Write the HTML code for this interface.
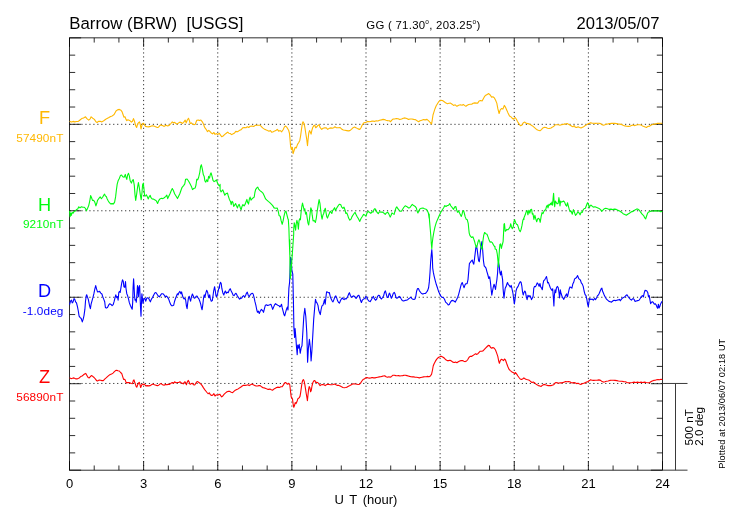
<!DOCTYPE html>
<html><head><meta charset="utf-8"><title>Barrow (BRW) magnetogram</title>
<style>html,body{margin:0;padding:0;background:#fff;overflow:hidden}body{width:730px;height:520px;position:relative;font-family:"Liberation Sans",sans-serif}</style></head>
<body>
<svg width="730" height="520" viewBox="0 0 730 520" style="position:absolute;left:0;top:0">
<rect width="730" height="520" fill="#fff"/>
<path d="M143.62,470.17V37.86M217.75,470.17V37.86M291.88,470.17V37.86M366.00,470.17V37.86M440.12,470.17V37.86M514.25,470.17V37.86M588.38,470.17V37.86" stroke="#333" stroke-width="1" stroke-dasharray="1.2 2.768" fill="none"/>
<path d="M69.50,124.32H662.50M69.50,210.78H662.50M69.50,297.25H662.50M69.50,383.46H662.50" stroke="#333" stroke-width="1" stroke-dasharray="1.2 2.768" fill="none"/>
<rect x="69.5" y="37.86" width="593.0" height="432.31" fill="none" stroke="#000" stroke-width="0.82"/>
<path d="M69.50,37.86v9M69.50,470.17v-9M94.21,37.86v4.7M94.21,470.17v-4.7M118.92,37.86v4.7M118.92,470.17v-4.7M143.62,37.86v9M143.62,470.17v-9M168.33,37.86v4.7M168.33,470.17v-4.7M193.04,37.86v4.7M193.04,470.17v-4.7M217.75,37.86v9M217.75,470.17v-9M242.46,37.86v4.7M242.46,470.17v-4.7M267.17,37.86v4.7M267.17,470.17v-4.7M291.88,37.86v9M291.88,470.17v-9M316.58,37.86v4.7M316.58,470.17v-4.7M341.29,37.86v4.7M341.29,470.17v-4.7M366.00,37.86v9M366.00,470.17v-9M390.71,37.86v4.7M390.71,470.17v-4.7M415.42,37.86v4.7M415.42,470.17v-4.7M440.12,37.86v9M440.12,470.17v-9M464.83,37.86v4.7M464.83,470.17v-4.7M489.54,37.86v4.7M489.54,470.17v-4.7M514.25,37.86v9M514.25,470.17v-9M538.96,37.86v4.7M538.96,470.17v-4.7M563.67,37.86v4.7M563.67,470.17v-4.7M588.38,37.86v9M588.38,470.17v-9M613.08,37.86v4.7M613.08,470.17v-4.7M637.79,37.86v4.7M637.79,470.17v-4.7M662.50,37.86v9M662.50,470.17v-9M69.5,37.86h11.6M662.5,37.86h-11.6M69.5,55.15h5.7M662.5,55.15h-5.7M69.5,72.44h5.7M662.5,72.44h-5.7M69.5,89.74h5.7M662.5,89.74h-5.7M69.5,107.03h5.7M662.5,107.03h-5.7M69.5,124.32h11.6M662.5,124.32h-11.6M69.5,141.61h5.7M662.5,141.61h-5.7M69.5,158.91h5.7M662.5,158.91h-5.7M69.5,176.20h5.7M662.5,176.20h-5.7M69.5,193.49h5.7M662.5,193.49h-5.7M69.5,210.78h11.6M662.5,210.78h-11.6M69.5,228.08h5.7M662.5,228.08h-5.7M69.5,245.37h5.7M662.5,245.37h-5.7M69.5,262.66h5.7M662.5,262.66h-5.7M69.5,279.95h5.7M662.5,279.95h-5.7M69.5,297.25h11.6M662.5,297.25h-11.6M69.5,314.54h5.7M662.5,314.54h-5.7M69.5,331.83h5.7M662.5,331.83h-5.7M69.5,349.12h5.7M662.5,349.12h-5.7M69.5,366.42h5.7M662.5,366.42h-5.7M69.5,383.71h11.6M662.5,383.71h-11.6M69.5,401.00h5.7M662.5,401.00h-5.7M69.5,418.29h5.7M662.5,418.29h-5.7M69.5,435.59h5.7M662.5,435.59h-5.7M69.5,452.88h5.7M662.5,452.88h-5.7M69.5,470.17h11.6M662.5,470.17h-11.6" stroke="#000" stroke-width="0.82" fill="none"/>
<path d="M69.6,377.7 L71.0,378.6 L72.4,378.3 L73.8,377.9 L75.2,378.6 L76.5,378.9 L77.9,378.6 L79.3,377.9 L80.7,376.6 L82.1,376.0 L83.5,374.8 L84.6,374.0 L85.8,373.4 L86.9,375.4 L88.1,377.5 L89.2,377.9 L90.4,376.6 L91.3,375.6 L92.7,376.3 L94.1,377.5 L95.5,379.1 L96.6,380.6 L97.8,380.9 L99.2,380.0 L100.6,380.2 L101.9,380.6 L103.3,380.6 L104.7,379.1 L106.1,377.9 L107.5,376.6 L108.9,375.4 L110.2,374.5 L111.6,374.0 L113.0,373.1 L114.4,371.7 L115.6,370.6 L116.7,370.2 L117.9,370.8 L119.3,371.0 L120.6,372.5 L121.8,373.7 L122.7,376.6 L123.6,379.4 L124.6,379.4 L125.3,380.2 L126.2,382.9 L127.3,382.6 L128.7,382.6 L130.1,382.9 L131.3,383.5 L132.4,383.7 L133.3,380.6 L134.0,379.8 L134.7,382.3 L135.4,384.1 L136.1,386.4 L136.8,387.2 L137.7,384.6 L138.7,382.9 L139.3,382.3 L140.0,384.6 L140.7,387.5 L141.4,385.8 L142.3,384.1 L143.3,384.6 L144.4,384.1 L144.6,384.4 L145.8,385.9 L147.2,385.6 L148.7,385.9 L150.2,385.6 L151.5,384.8 L152.9,384.1 L154.4,384.8 L155.9,385.2 L157.3,385.6 L158.7,385.2 L159.9,384.1 L161.2,383.6 L162.6,384.8 L164.0,385.2 L165.4,384.4 L166.8,384.8 L168.2,384.4 L169.6,384.4 L170.9,383.3 L172.3,382.5 L173.5,383.3 L174.6,381.8 L176.0,382.7 L177.4,382.5 L178.8,382.5 L179.9,381.8 L181.1,382.7 L182.2,383.3 L183.2,383.9 L184.1,382.5 L185.0,381.8 L185.7,382.7 L186.4,384.8 L187.3,382.1 L188.2,380.4 L189.2,382.1 L190.1,384.4 L191.3,383.6 L192.4,383.3 L193.6,384.8 L194.7,385.0 L195.6,383.6 L196.6,382.1 L197.7,381.6 L198.9,382.5 L200.0,383.3 L201.2,384.4 L202.3,385.9 L203.5,387.9 L204.7,389.6 L205.8,391.0 L207.0,392.5 L208.1,393.7 L209.3,392.9 L210.4,394.8 L211.6,395.4 L212.7,395.2 L213.9,393.7 L215.0,396.0 L216.2,394.8 L217.6,395.2 L219.0,394.5 L220.0,394.2 L220.1,394.4 L220.3,395.2 L221.7,396.9 L222.8,396.0 L224.2,394.1 L225.6,392.9 L227.0,391.8 L228.4,391.4 L229.8,391.4 L231.2,392.3 L232.6,392.6 L233.9,391.4 L235.3,390.2 L236.7,389.4 L238.1,388.9 L239.5,387.9 L240.9,387.1 L242.2,386.0 L243.6,385.2 L245.0,385.4 L246.4,385.2 L247.8,384.8 L249.2,385.6 L250.6,384.8 L251.9,384.0 L253.3,384.8 L254.7,385.4 L256.1,386.0 L257.5,386.0 L258.9,385.6 L260.2,385.6 L261.6,386.8 L263.0,387.7 L264.4,387.9 L265.8,388.6 L267.2,389.1 L268.6,389.4 L269.9,389.1 L271.3,389.8 L272.5,390.2 L273.9,389.1 L275.3,388.3 L276.6,387.5 L278.0,387.1 L279.4,387.5 L280.8,386.8 L282.2,386.6 L283.3,385.2 L284.5,383.1 L285.6,382.5 L286.8,383.7 L287.7,384.2 L288.9,383.3 L289.8,384.8 L290.5,391.2 L291.2,396.9 L291.9,398.1 L292.6,399.2 L292.6,399.8 L293.1,403.9 L293.8,407.3 L294.5,405.6 L295.2,402.5 L296.1,403.6 L297.0,401.6 L297.9,398.7 L299.1,397.9 L300.0,396.4 L300.7,392.3 L301.4,387.1 L302.1,382.5 L302.8,380.2 L303.5,379.6 L304.2,381.4 L304.9,384.8 L305.6,389.4 L306.2,393.5 L306.9,397.5 L307.4,400.6 L307.9,395.8 L308.6,389.4 L309.2,386.6 L309.9,387.7 L310.6,391.8 L311.3,390.2 L312.0,386.0 L312.9,382.5 L313.9,380.8 L314.8,380.6 L315.7,382.5 L316.6,382.2 L317.8,382.5 L318.9,384.0 L320.1,385.6 L321.2,384.8 L322.6,384.5 L324.0,384.8 L325.2,385.6 L326.3,384.8 L327.7,384.2 L329.1,384.5 L330.5,384.8 L331.9,384.8 L333.2,384.5 L334.6,384.0 L336.0,384.8 L337.4,385.4 L338.8,385.4 L340.2,386.0 L341.6,386.8 L342.9,387.5 L344.3,387.7 L345.7,387.5 L347.1,387.1 L348.5,386.3 L349.9,385.6 L351.3,384.8 L352.6,384.0 L354.0,383.7 L355.4,384.0 L356.8,384.2 L358.2,384.5 L359.6,384.2 L360.7,382.9 L361.9,381.0 L363.0,379.6 L364.2,379.1 L365.0,378.5 L365.3,378.1 L366.7,377.5 L368.1,377.9 L369.5,378.1 L370.9,377.9 L372.2,377.5 L373.6,377.9 L375.0,377.9 L376.4,377.5 L377.8,377.2 L379.2,376.9 L380.6,376.7 L381.9,376.4 L383.3,376.0 L384.7,375.8 L386.1,376.7 L387.5,377.2 L388.9,376.7 L390.2,377.2 L391.6,376.4 L393.0,375.2 L394.4,375.2 L395.8,375.6 L397.2,375.8 L398.6,375.6 L399.9,376.0 L401.3,375.8 L402.7,375.6 L404.1,375.2 L405.5,375.2 L406.9,375.6 L408.2,376.0 L409.6,376.4 L411.0,376.7 L412.4,376.9 L413.8,376.9 L415.2,377.2 L416.6,377.2 L417.9,377.5 L419.3,377.9 L420.7,377.5 L422.1,377.2 L423.5,376.9 L424.9,376.7 L426.3,376.7 L427.6,376.4 L429.0,376.7 L430.4,376.0 L431.6,374.1 L432.5,370.0 L433.2,366.0 L434.1,363.7 L435.3,361.4 L436.4,359.6 L437.6,358.2 L438.7,357.3 L440.0,356.7 L440.3,356.4 L441.7,356.4 L443.1,357.2 L444.5,358.3 L445.9,359.8 L447.2,360.6 L448.6,360.6 L450.0,360.2 L451.4,361.0 L452.8,362.1 L454.2,362.5 L455.6,362.1 L456.9,362.7 L458.3,361.8 L459.7,361.0 L461.1,360.6 L462.5,360.6 L463.9,361.3 L465.2,361.6 L466.6,361.0 L467.8,359.5 L468.9,357.5 L470.1,356.4 L471.5,356.4 L472.9,355.6 L474.2,354.6 L475.6,353.7 L476.8,354.4 L477.9,353.7 L479.1,352.3 L480.2,351.2 L481.6,351.2 L483.0,350.9 L484.4,349.4 L485.8,347.9 L487.2,346.5 L488.3,345.4 L489.5,345.6 L490.6,347.5 L491.8,348.3 L492.9,347.5 L494.3,348.3 L495.5,350.0 L496.6,352.9 L497.8,356.4 L498.7,361.0 L499.4,363.3 L500.3,360.6 L501.3,359.2 L502.4,359.8 L503.6,360.6 L504.5,359.0 L505.4,359.8 L506.6,363.3 L507.7,366.2 L508.9,369.1 L510.3,370.6 L511.6,371.7 L513.0,372.5 L514.4,373.3 L515.0,373.7 L515.5,372.6 L516.7,374.1 L517.9,376.0 L519.0,377.5 L520.2,379.0 L521.5,379.5 L522.9,378.7 L523.9,377.9 L525.0,378.7 L526.4,379.5 L527.8,379.8 L529.2,380.2 L530.5,381.3 L531.9,382.5 L533.3,382.1 L534.5,382.7 L535.6,383.9 L537.0,384.8 L538.4,385.6 L539.8,385.9 L541.2,386.4 L542.5,385.2 L543.9,384.4 L545.3,384.8 L546.7,385.2 L548.1,385.6 L549.5,385.6 L550.9,385.6 L552.2,385.2 L553.6,384.8 L554.8,383.3 L556.0,382.5 L557.3,382.7 L558.7,383.3 L560.1,382.7 L561.5,382.9 L562.9,382.5 L564.3,382.1 L565.6,381.6 L567.0,381.8 L568.4,381.6 L569.8,381.8 L571.2,382.7 L572.6,382.9 L574.0,382.5 L575.3,382.9 L576.7,383.6 L578.1,383.3 L579.5,383.9 L580.9,384.4 L582.3,383.6 L583.6,383.3 L585.0,382.9 L586.4,382.1 L587.6,381.8 L588.7,381.0 L590.0,380.2 L590.5,379.8 L591.9,380.2 L593.7,380.4 L595.4,380.2 L597.1,380.2 L598.9,379.9 L600.6,380.4 L602.1,381.6 L603.5,382.1 L604.9,381.8 L606.4,381.3 L608.1,381.0 L609.8,380.4 L611.5,380.2 L613.3,380.2 L615.0,380.4 L616.8,380.6 L618.5,381.0 L620.2,381.3 L621.9,381.3 L623.7,381.6 L625.4,381.8 L627.1,382.5 L628.9,382.9 L630.6,382.7 L632.3,382.5 L634.1,382.1 L635.8,382.5 L637.5,382.1 L639.3,382.5 L641.0,382.1 L642.7,382.5 L644.5,382.1 L646.2,382.5 L647.9,382.7 L649.4,382.7 L650.8,381.8 L652.2,381.0 L653.7,380.4 L655.2,380.2 L656.6,379.8 L658.0,379.5 L659.5,379.8 L661.0,379.2 L662.3,379.5" stroke="#ff0000" stroke-width="1.1" fill="none" stroke-linejoin="round"/>
<path d="M69.6,304.6 L70.5,301.2 L71.5,300.2 L72.2,302.9 L73.1,301.8 L74.0,298.6 L74.8,299.4 L75.6,301.8 L76.5,302.9 L77.5,306.9 L78.3,311.0 L79.1,316.2 L80.0,317.3 L81.2,318.5 L82.3,321.9 L83.2,319.1 L84.0,315.6 L84.9,309.2 L85.5,301.2 L86.2,296.0 L86.7,294.8 L87.5,297.1 L88.3,299.4 L89.0,302.9 L89.7,306.4 L90.4,308.7 L91.1,304.1 L92.0,300.9 L92.9,297.7 L93.9,293.7 L94.8,289.1 L95.7,285.6 L96.6,289.1 L97.5,291.9 L98.5,291.7 L99.6,291.4 L100.8,293.1 L101.9,294.0 L102.9,297.1 L103.8,299.4 L104.7,301.8 L105.4,307.5 L106.3,308.1 L107.5,307.5 L108.6,305.2 L109.8,303.7 L111.0,304.4 L112.1,305.6 L113.2,304.6 L114.2,301.2 L115.1,297.5 L115.8,294.8 L116.7,297.7 L117.5,296.6 L118.1,300.2 L118.8,292.5 L119.5,291.4 L120.2,292.5 L121.0,287.3 L121.8,282.7 L122.5,279.8 L123.3,281.5 L123.9,286.7 L124.8,287.3 L125.5,281.5 L126.0,288.5 L126.8,293.7 L127.6,295.6 L128.5,298.9 L129.4,302.9 L130.3,305.2 L131.3,307.5 L132.2,309.2 L132.7,302.3 L133.1,287.3 L133.6,278.7 L134.0,285.0 L134.5,295.4 L135.0,300.2 L135.7,299.4 L136.3,302.3 L137.0,293.1 L137.5,285.6 L138.0,290.2 L138.4,296.6 L138.9,287.3 L139.6,285.6 L140.0,294.8 L140.5,306.9 L141.0,316.2 L141.4,304.6 L141.9,293.7 L142.3,297.1 L143.0,303.5 L143.7,299.4 L143.9,298.9 L144.8,298.3 L145.8,301.2 L146.7,298.3 L147.6,297.7 L148.7,298.3 L149.5,300.2 L150.4,301.8 L151.3,299.4 L152.5,297.5 L153.6,295.2 L154.8,293.1 L155.9,292.5 L157.1,294.2 L158.2,296.0 L159.4,296.8 L160.6,295.2 L161.7,293.7 L162.9,293.7 L164.0,294.8 L165.2,296.8 L166.3,296.0 L167.5,297.1 L168.6,298.9 L169.6,301.8 L170.5,304.1 L171.6,305.8 L172.8,305.6 L173.7,305.2 L174.6,301.2 L175.6,298.3 L176.5,296.0 L177.4,293.7 L178.1,294.8 L179.0,292.5 L179.9,291.4 L180.9,293.7 L181.6,291.9 L182.2,294.8 L183.2,297.7 L184.1,298.9 L185.0,298.3 L185.7,300.2 L186.4,305.8 L187.1,308.7 L187.8,302.3 L188.5,297.7 L189.2,296.3 L189.9,298.9 L190.6,301.2 L191.5,296.6 L192.4,294.0 L193.3,296.0 L194.3,298.3 L195.2,297.7 L196.1,296.3 L197.0,296.0 L197.9,297.5 L198.9,298.9 L199.8,301.2 L200.7,304.1 L201.4,307.5 L202.1,309.8 L202.8,304.6 L203.5,298.3 L204.2,294.8 L204.9,297.1 L205.8,293.1 L206.7,290.2 L207.7,292.5 L208.3,296.0 L209.0,297.7 L209.7,294.8 L210.4,298.9 L211.3,301.2 L212.3,300.6 L213.0,296.0 L213.7,290.8 L214.6,286.7 L215.3,290.8 L216.0,296.0 L216.7,296.6 L217.6,293.7 L218.5,289.6 L219.4,286.2 L219.5,288.1 L219.6,285.2 L220.5,282.3 L221.2,283.5 L221.9,288.7 L222.8,292.7 L223.8,295.0 L224.7,292.1 L225.4,291.0 L226.3,293.3 L227.2,292.1 L228.2,292.7 L229.1,290.4 L230.2,288.7 L231.2,291.0 L232.1,292.7 L233.2,295.2 L234.2,295.6 L235.1,293.9 L236.0,293.3 L237.2,295.6 L238.3,297.3 L239.5,299.1 L240.6,298.5 L241.8,297.9 L242.7,296.4 L243.6,295.6 L244.6,296.8 L245.5,295.9 L246.4,293.3 L247.3,292.1 L248.2,295.2 L249.2,296.8 L250.1,295.0 L251.0,293.9 L252.2,293.3 L253.1,293.9 L254.0,297.1 L254.9,301.4 L255.9,305.4 L256.8,310.0 L257.5,312.3 L258.4,311.2 L259.3,313.5 L260.2,311.2 L261.4,309.4 L262.6,310.6 L263.5,312.3 L264.4,308.9 L265.3,305.4 L266.3,304.8 L267.4,305.4 L268.6,305.2 L269.7,304.8 L270.9,304.2 L271.8,306.6 L272.7,309.4 L273.6,307.1 L274.6,304.8 L275.5,303.7 L276.6,304.5 L277.8,305.2 L278.9,305.6 L279.9,306.8 L280.6,306.3 L281.5,304.2 L282.2,307.7 L283.1,311.2 L284.0,314.6 L284.7,315.8 L285.6,312.3 L286.6,308.9 L287.3,307.1 L288.0,310.0 L288.4,299.6 L288.9,288.1 L289.6,282.3 L290.0,271.9 L290.6,257.3 L291.2,259.6 L291.9,270.6 L292.8,274.2 L293.4,300.0 L293.9,327.9 L294.6,337.5 L295.1,328.6 L295.9,338.1 L296.4,345.7 L297.2,354.6 L297.7,345.1 L298.4,348.2 L299.2,344.4 L300.2,353.3 L301.2,347.6 L302.0,345.7 L302.8,333.0 L303.8,316.5 L304.8,308.2 L305.8,316.5 L306.8,333.0 L307.3,350.8 L307.6,362.2 L308.4,348.2 L309.4,339.4 L310.4,348.2 L311.1,360.9 L311.9,350.8 L312.7,336.8 L313.7,319.1 L314.7,307.6 L315.5,299.4 L316.2,301.9 L317.1,303.1 L318.0,305.4 L318.7,310.0 L319.6,312.9 L320.3,314.6 L321.0,310.0 L321.9,306.0 L322.9,305.4 L323.8,302.5 L324.5,299.6 L325.2,304.2 L325.9,297.3 L326.6,291.8 L327.5,292.1 L328.4,292.7 L329.3,292.5 L330.2,296.2 L331.2,299.1 L332.1,300.8 L333.0,301.9 L333.9,299.6 L334.9,296.8 L335.8,295.9 L336.7,297.9 L337.6,300.8 L338.6,302.5 L339.5,303.1 L340.4,300.8 L341.3,299.1 L342.3,297.9 L343.2,299.1 L344.1,299.6 L345.0,298.5 L345.9,299.1 L346.9,297.9 L347.8,296.2 L348.7,293.9 L349.4,292.7 L350.3,295.2 L351.3,297.3 L352.2,296.8 L353.3,295.9 L354.3,296.2 L355.2,297.3 L356.1,298.5 L357.0,297.1 L358.0,295.6 L358.9,295.2 L359.8,297.9 L360.7,300.8 L361.4,302.5 L362.3,300.2 L363.5,299.1 L365.0,298.5 L365.8,296.4 L366.7,296.9 L367.6,299.3 L368.8,301.0 L370.2,301.6 L371.3,299.8 L372.5,297.5 L373.4,296.4 L374.3,298.7 L375.5,300.2 L376.6,299.3 L377.6,296.4 L378.7,295.2 L379.6,295.8 L380.6,298.1 L381.5,299.0 L382.6,297.5 L383.6,295.8 L384.5,292.3 L385.4,290.9 L386.3,294.1 L387.2,297.5 L388.2,297.5 L388.9,294.1 L389.6,293.2 L390.5,295.8 L391.4,298.3 L392.3,296.4 L393.2,293.5 L394.2,292.3 L395.1,294.1 L396.0,297.5 L396.9,298.3 L398.1,297.5 L399.2,296.4 L400.2,296.9 L401.1,298.7 L402.2,300.4 L403.6,301.0 L405.0,300.4 L406.4,300.2 L407.6,299.8 L408.7,298.7 L409.9,297.9 L410.8,297.2 L411.7,298.3 L412.9,299.3 L414.0,299.5 L415.2,298.7 L415.9,295.8 L416.6,291.2 L417.5,288.6 L418.4,288.6 L419.3,290.6 L420.5,292.3 L421.6,293.5 L422.8,294.1 L424.2,293.5 L425.3,293.5 L426.5,292.3 L427.6,290.6 L428.6,287.7 L429.3,281.9 L430.0,272.7 L430.6,262.3 L431.3,254.2 L431.8,249.6 L432.3,256.5 L432.7,268.1 L433.4,272.7 L434.3,276.8 L435.3,280.8 L436.4,284.8 L437.6,288.3 L438.7,291.8 L440.0,294.6 L440.1,294.6 L441.0,296.4 L442.2,297.5 L443.3,297.5 L444.5,299.3 L445.6,302.1 L447.0,303.3 L448.2,305.0 L449.3,304.4 L450.5,302.1 L451.6,300.6 L452.8,300.4 L453.9,301.0 L455.3,302.1 L456.5,299.8 L457.6,297.5 L458.6,294.6 L459.5,291.2 L460.4,287.7 L461.3,284.2 L462.2,282.5 L463.2,285.4 L464.1,287.7 L465.0,284.8 L465.9,283.7 L467.1,283.7 L468.0,279.6 L468.7,271.6 L469.4,263.5 L470.3,262.3 L471.2,261.2 L472.2,260.0 L473.1,262.9 L473.8,264.1 L474.5,258.9 L475.2,253.1 L475.9,247.3 L476.6,246.2 L477.2,249.6 L477.9,255.4 L478.6,260.6 L479.3,261.7 L480.0,256.5 L480.7,248.5 L481.4,243.8 L482.0,241.5 L482.4,246.2 L482.8,251.9 L483.5,261.2 L484.2,265.8 L485.1,266.9 L486.0,268.1 L486.9,271.6 L487.9,275.0 L488.8,278.5 L489.7,276.8 L490.4,281.9 L491.1,288.9 L491.8,295.2 L492.5,291.2 L493.4,286.6 L494.1,284.2 L494.8,286.6 L495.5,289.4 L496.2,284.2 L496.9,279.6 L497.6,272.7 L498.0,265.8 L498.5,262.3 L499.2,265.8 L499.9,272.7 L500.6,275.0 L501.3,271.0 L502.0,276.2 L502.6,279.6 L503.1,288.9 L503.6,294.6 L504.0,298.1 L504.5,293.5 L505.2,288.3 L506.1,286.6 L506.8,284.2 L507.5,282.5 L508.4,284.8 L509.3,285.4 L510.3,287.1 L511.2,285.4 L512.1,289.4 L513.0,293.5 L513.7,299.3 L514.4,303.9 L515.3,297.3 L516.0,291.0 L516.9,288.1 L518.1,286.4 L519.2,283.5 L520.2,281.7 L521.1,282.3 L521.8,285.8 L522.5,291.6 L523.2,295.0 L523.9,292.7 L524.8,291.0 L525.5,292.1 L526.2,296.2 L527.1,299.6 L528.0,295.2 L528.9,296.8 L529.9,295.6 L530.8,297.3 L531.5,299.6 L532.4,297.9 L533.1,296.2 L533.8,288.1 L534.5,286.4 L535.4,286.7 L536.3,285.2 L537.2,282.9 L538.2,284.1 L539.1,286.4 L540.0,283.5 L540.7,286.9 L541.6,288.1 L542.3,289.8 L543.0,284.1 L543.7,280.6 L544.6,280.0 L545.6,278.3 L546.5,276.5 L547.2,280.0 L547.6,282.9 L548.3,282.3 L549.2,284.6 L550.2,287.5 L551.1,289.2 L552.0,290.4 L552.7,288.7 L553.4,298.5 L553.9,306.0 L554.3,296.2 L555.0,289.8 L555.7,292.7 L556.4,288.1 L557.3,286.4 L558.2,287.5 L559.0,292.7 L559.6,297.9 L560.3,289.8 L561.0,293.3 L562.0,296.2 L562.9,297.9 L563.8,299.4 L564.7,297.3 L565.6,295.6 L566.6,293.9 L567.5,296.8 L568.4,292.7 L569.3,288.7 L570.0,286.9 L571.0,287.5 L571.9,288.1 L572.8,284.1 L573.7,282.3 L574.6,278.9 L575.6,278.3 L576.5,277.5 L577.6,275.6 L578.6,278.3 L579.5,279.4 L580.4,280.0 L581.3,282.9 L582.3,284.1 L583.2,286.4 L584.1,291.0 L585.0,294.4 L586.0,295.6 L586.9,299.6 L587.6,304.2 L588.3,306.6 L589.0,301.9 L589.6,298.5 L591.0,299.6 L592.2,299.1 L593.3,300.2 L594.5,298.5 L595.6,299.6 L596.5,297.9 L597.5,295.6 L598.4,295.0 L599.3,293.3 L600.2,291.0 L601.2,288.7 L601.9,288.1 L602.5,291.0 L603.5,293.3 L604.4,295.6 L605.3,297.3 L606.5,299.1 L607.6,300.2 L609.0,301.4 L610.4,301.7 L611.5,302.2 L612.7,301.0 L614.1,300.2 L615.5,300.6 L616.9,300.2 L618.2,299.9 L619.4,299.4 L620.3,300.8 L621.5,299.1 L622.6,297.9 L624.0,297.3 L625.2,296.4 L626.3,295.2 L627.0,294.8 L627.9,296.2 L629.1,297.9 L630.2,299.1 L631.4,300.2 L632.3,299.1 L633.2,298.5 L634.2,299.6 L635.1,301.4 L636.3,301.0 L637.6,300.6 L639.0,300.2 L640.2,298.5 L641.3,296.4 L642.5,295.6 L643.4,296.8 L644.3,292.7 L645.0,290.4 L646.0,290.6 L646.9,291.0 L647.8,292.7 L648.5,296.8 L649.2,295.6 L649.9,299.6 L650.6,303.7 L651.5,302.2 L652.4,301.7 L653.3,302.5 L654.3,304.2 L655.2,303.7 L656.1,304.8 L657.0,307.1 L657.7,308.3 L658.4,304.2 L659.1,307.9 L659.8,306.6 L660.7,303.7 L661.6,301.9 L662.3,301.4" stroke="#0000ff" stroke-width="1.1" fill="none" stroke-linejoin="round"/>
<path d="M69.6,210.8 L70.1,216.6 L70.8,213.1 L71.3,215.4 L72.2,212.5 L73.1,213.1 L74.2,211.4 L75.4,210.8 L76.5,209.6 L77.7,209.1 L78.8,206.8 L80.0,207.9 L81.4,206.8 L82.9,207.3 L84.4,207.3 L85.5,208.5 L86.4,210.8 L87.5,208.5 L88.7,205.6 L89.5,202.1 L90.2,198.7 L90.6,195.6 L91.5,197.5 L92.5,200.4 L93.6,200.2 L94.8,202.1 L95.9,205.9 L96.8,203.3 L97.5,200.4 L98.7,198.7 L100.2,196.9 L101.4,198.7 L102.5,197.5 L103.7,195.2 L104.5,194.1 L105.4,196.0 L106.3,196.4 L107.1,198.7 L108.3,201.0 L109.4,202.7 L110.6,203.9 L112.1,203.6 L113.5,203.9 L114.6,202.1 L115.6,196.9 L116.4,190.0 L117.2,184.2 L118.1,180.8 L119.3,178.5 L120.4,175.6 L121.6,175.0 L122.7,176.7 L124.1,177.3 L125.3,174.4 L126.0,177.3 L126.8,179.4 L127.6,175.0 L128.5,173.3 L129.4,176.2 L130.2,180.8 L131.4,183.1 L132.5,180.2 L133.3,179.6 L134.3,185.4 L135.0,194.6 L135.7,200.4 L136.6,194.6 L137.5,187.7 L138.4,182.5 L139.3,187.7 L140.3,194.6 L141.2,199.8 L141.9,193.5 L142.6,184.8 L143.3,183.1 L144.1,190.0 L144.6,196.0 L145.5,196.0 L146.3,194.8 L147.2,196.6 L148.3,198.9 L149.2,196.6 L150.2,195.4 L151.0,197.7 L152.1,198.9 L153.6,199.1 L155.0,200.0 L156.4,200.9 L157.6,203.5 L158.7,200.6 L159.9,198.9 L161.4,198.3 L162.9,198.6 L164.2,197.7 L165.6,196.6 L166.8,195.2 L167.7,198.6 L168.9,196.0 L170.0,193.7 L171.2,190.8 L172.3,188.5 L173.5,190.8 L174.6,193.7 L176.0,196.0 L177.5,198.6 L178.7,196.0 L179.8,193.7 L181.0,190.2 L182.1,187.3 L183.6,185.6 L184.8,183.9 L185.6,179.2 L187.1,179.0 L188.5,181.0 L189.9,183.6 L191.4,186.4 L192.5,189.6 L193.7,188.5 L195.2,187.9 L196.0,185.0 L196.8,179.2 L197.7,179.8 L198.6,177.5 L199.8,172.3 L200.6,166.5 L201.4,164.8 L202.3,168.8 L203.3,174.6 L204.2,176.4 L204.9,181.0 L205.8,182.1 L206.7,179.8 L207.7,181.6 L208.6,176.4 L209.5,178.1 L210.4,174.1 L211.1,172.9 L212.2,176.9 L213.0,180.4 L214.1,181.6 L215.3,181.0 L216.4,179.8 L217.6,183.3 L218.7,185.2 L220.0,186.2 L220.1,184.4 L220.1,189.6 L221.0,191.9 L221.9,190.8 L222.8,189.9 L223.8,192.5 L224.8,195.2 L226.0,193.7 L227.5,193.1 L228.3,196.0 L229.4,199.4 L230.6,201.8 L231.2,204.6 L232.1,201.2 L232.9,202.3 L233.7,206.4 L234.6,205.2 L235.6,203.5 L236.5,205.8 L237.5,207.9 L238.4,205.2 L239.2,204.4 L240.2,207.5 L241.1,209.8 L242.0,206.4 L242.9,204.6 L244.1,206.0 L245.2,204.1 L246.2,201.2 L246.9,199.4 L247.6,202.3 L248.5,204.1 L249.4,198.9 L250.1,197.1 L251.0,200.2 L252.2,198.6 L253.3,197.7 L254.2,197.1 L254.9,192.5 L255.6,189.6 L256.8,187.9 L257.7,187.1 L258.6,189.1 L260.0,190.6 L261.4,191.7 L262.9,193.1 L264.1,195.6 L265.6,198.9 L266.9,200.2 L268.3,201.4 L269.8,202.6 L271.3,204.1 L272.7,205.6 L274.1,207.9 L275.6,208.3 L277.3,208.1 L278.3,211.6 L279.1,215.6 L280.2,216.2 L281.0,220.2 L282.2,224.3 L283.1,220.8 L284.0,216.2 L285.0,212.1 L285.9,211.0 L286.8,214.4 L288.0,219.1 L288.3,219.2 L288.9,228.5 L289.3,241.2 L289.8,255.0 L289.8,240.0 L289.9,259.6 L290.3,278.7 L291.0,271.2 L291.9,259.6 L292.9,245.8 L293.7,234.2 L293.7,229.6 L294.2,222.7 L294.9,225.6 L295.6,230.2 L296.2,223.9 L296.9,220.4 L297.7,223.3 L298.4,229.1 L299.0,221.0 L299.7,218.7 L300.4,219.8 L301.1,212.3 L301.8,206.5 L302.5,203.1 L303.3,206.5 L304.1,210.0 L304.8,208.8 L305.6,214.1 L306.4,212.3 L307.1,217.5 L307.9,222.7 L308.7,225.0 L309.4,219.8 L310.2,212.9 L310.8,207.7 L311.5,209.4 L312.2,215.2 L313.1,221.0 L314.2,220.4 L315.4,222.5 L316.3,218.1 L317.2,211.2 L318.2,204.8 L319.1,199.6 L320.0,203.7 L320.7,210.0 L321.4,215.8 L322.1,219.2 L322.9,215.2 L323.7,213.5 L324.6,210.0 L325.3,208.3 L326.0,212.3 L326.7,216.4 L327.5,218.1 L328.3,215.8 L329.3,213.5 L330.2,211.2 L331.1,212.3 L331.8,213.5 L332.7,210.6 L333.6,209.4 L334.6,207.7 L335.5,210.6 L336.4,208.8 L337.3,207.1 L338.5,205.2 L339.6,204.2 L340.8,204.8 L341.7,207.1 L342.9,208.3 L344.0,207.1 L345.0,210.0 L345.9,213.5 L346.8,212.9 L347.7,215.2 L348.6,218.1 L349.8,220.2 L351.0,219.2 L351.9,216.9 L352.9,215.2 L354.1,213.5 L355.0,212.3 L356.0,214.4 L357.2,216.8 L358.3,218.5 L359.8,221.4 L361.0,218.5 L362.5,216.2 L363.6,214.4 L364.8,215.0 L365.9,216.2 L367.1,212.7 L368.2,211.3 L369.6,212.5 L370.8,213.3 L371.9,211.8 L373.1,212.1 L374.0,209.5 L374.9,208.7 L376.0,210.2 L377.1,212.5 L378.3,213.6 L379.4,211.8 L380.9,212.1 L382.3,212.1 L383.7,212.9 L385.2,214.4 L386.4,212.9 L387.6,212.1 L388.8,213.9 L390.2,217.1 L391.1,215.2 L392.0,212.9 L392.9,213.6 L394.1,214.4 L395.0,211.0 L395.9,208.1 L396.8,206.9 L397.9,208.7 L399.1,210.2 L400.2,211.3 L401.4,211.3 L402.5,209.5 L403.7,207.5 L405.2,205.8 L406.6,206.4 L407.7,207.2 L408.9,208.1 L410.0,207.5 L411.2,205.8 L412.3,204.4 L413.7,205.6 L415.2,206.4 L416.4,208.1 L417.2,211.6 L417.9,212.9 L418.8,211.0 L419.8,209.0 L421.3,208.3 L423.0,208.1 L424.5,208.7 L426.0,209.2 L427.1,210.2 L428.3,212.7 L429.2,218.5 L429.2,214.1 L429.5,220.4 L430.2,228.5 L430.9,236.6 L431.3,243.5 L431.8,248.7 L432.2,243.5 L432.9,237.7 L433.9,231.9 L435.0,226.8 L436.4,222.1 L437.9,218.7 L439.4,215.2 L440.8,212.3 L442.2,210.0 L443.7,207.7 L444.8,205.6 L446.0,206.5 L447.1,205.6 L448.6,205.2 L449.8,203.7 L450.9,206.0 L452.3,207.7 L453.5,209.4 L454.6,207.1 L455.8,206.5 L456.7,210.0 L457.5,212.3 L458.7,211.2 L459.8,213.5 L461.3,216.4 L462.1,214.1 L462.7,211.2 L463.6,210.6 L464.4,213.5 L465.2,216.9 L466.2,219.2 L467.3,219.8 L468.2,223.3 L468.7,228.5 L469.2,233.1 L469.9,235.4 L470.8,236.6 L471.7,237.5 L472.9,236.8 L473.7,238.9 L474.5,241.2 L475.4,244.6 L476.3,247.5 L477.1,245.8 L477.9,242.3 L478.9,239.8 L479.8,241.8 L480.6,245.8 L481.4,248.7 L482.1,249.3 L482.9,241.2 L483.7,235.4 L484.6,232.5 L485.8,233.7 L487.0,234.2 L488.1,237.1 L489.3,240.6 L490.2,242.3 L491.3,241.8 L492.5,242.9 L493.6,245.2 L494.8,246.9 L494.9,246.2 L495.2,249.1 L496.4,249.6 L497.3,254.2 L498.0,261.2 L498.5,266.9 L498.9,258.9 L499.4,249.6 L499.9,244.4 L500.6,243.9 L501.4,248.5 L502.2,245.0 L503.1,241.6 L503.6,232.3 L504.0,224.2 L504.5,223.7 L505.2,231.2 L506.0,230.6 L506.8,229.4 L507.9,229.8 L509.1,228.3 L510.0,227.1 L510.7,223.7 L511.4,226.5 L512.3,228.8 L513.2,227.1 L513.9,221.9 L514.6,219.6 L515.6,222.5 L516.5,224.2 L517.5,224.8 L518.3,227.1 L519.2,230.0 L520.2,231.7 L521.1,229.4 L522.0,225.4 L522.9,220.2 L523.9,217.9 L523.9,219.4 L524.0,217.7 L525.2,214.8 L526.3,211.4 L527.2,210.8 L527.9,214.8 L528.9,210.2 L529.8,213.1 L530.7,209.6 L531.6,209.4 L532.3,214.2 L533.0,213.7 L533.9,219.4 L534.9,215.4 L535.8,218.9 L536.7,221.8 L537.6,218.9 L538.5,218.3 L539.5,219.4 L540.2,222.3 L541.1,216.6 L542.0,212.5 L542.9,213.7 L543.9,211.4 L544.8,210.2 L545.7,209.6 L546.6,206.2 L547.3,205.2 L548.0,207.9 L548.9,204.4 L549.6,205.2 L550.6,203.3 L551.2,204.8 L551.9,202.1 L552.6,205.2 L553.1,198.1 L553.6,193.2 L554.0,199.8 L554.7,206.8 L555.4,201.0 L556.3,202.7 L557.2,203.9 L558.2,203.3 L558.9,197.5 L559.6,202.1 L560.0,205.9 L560.7,201.0 L561.4,202.1 L562.3,201.8 L563.5,201.0 L564.6,202.1 L565.8,205.2 L566.7,206.2 L567.5,202.7 L568.3,205.9 L569.3,209.6 L570.2,211.7 L571.1,211.0 L572.3,214.2 L573.4,209.6 L574.3,211.9 L575.5,215.4 L576.6,214.2 L577.8,211.7 L579.0,212.9 L580.1,214.8 L581.3,211.9 L582.2,212.5 L583.3,209.6 L584.3,208.5 L585.4,208.2 L586.6,205.0 L587.5,202.7 L588.4,203.9 L589.3,207.9 L590.3,205.2 L591.2,205.2 L592.3,206.4 L593.5,207.1 L595.0,206.8 L599.1,208.5 L600.6,209.6 L601.7,211.4 L602.9,210.2 L604.4,208.7 L605.8,208.2 L607.5,208.7 L609.2,209.4 L611.0,209.1 L612.7,209.6 L614.4,209.1 L616.2,209.4 L617.9,210.2 L619.6,211.0 L621.4,212.2 L623.1,213.7 L624.8,214.5 L626.3,215.2 L627.7,214.2 L629.4,213.3 L631.2,211.9 L632.9,211.4 L634.6,210.2 L636.4,209.1 L637.9,209.1 L639.3,210.2 L640.6,212.2 L642.1,214.2 L643.6,215.6 L644.8,217.9 L645.7,218.9 L646.6,216.0 L647.6,213.1 L648.7,211.9 L650.2,211.4 L652.0,211.0 L653.7,211.0 L655.4,210.6 L657.1,211.0 L658.9,210.8 L660.6,211.7 L662.3,211.4" stroke="#00fb10" stroke-width="1.1" fill="none" stroke-linejoin="round"/>
<path d="M69.6,121.2 L71.3,122.1 L73.1,121.4 L74.8,121.9 L76.5,121.5 L78.3,121.4 L80.0,120.0 L81.7,118.6 L83.5,117.9 L85.5,116.8 L86.9,118.6 L88.7,120.2 L90.2,118.9 L91.1,116.8 L92.7,118.2 L94.4,119.4 L95.9,121.8 L97.1,122.5 L98.5,121.4 L100.2,121.2 L101.9,121.9 L103.7,120.7 L105.4,119.5 L107.1,118.4 L108.9,117.5 L110.6,116.5 L112.3,115.9 L114.1,114.5 L115.2,112.5 L116.0,111.0 L117.5,109.9 L119.3,109.4 L121.0,110.2 L122.1,111.9 L123.1,114.8 L123.9,117.1 L125.0,116.8 L126.0,119.4 L126.8,120.6 L127.9,119.8 L129.1,120.2 L130.2,120.9 L131.4,122.1 L132.5,121.2 L133.5,118.6 L134.3,120.6 L135.1,123.5 L135.7,125.8 L136.6,127.5 L137.5,124.6 L138.3,122.9 L139.5,121.8 L140.3,124.6 L141.0,129.0 L141.8,125.8 L142.6,123.5 L143.5,123.2 L144.4,124.6 L145.5,126.4 L146.9,126.7 L148.7,126.9 L150.4,126.4 L152.1,125.8 L153.8,126.0 L155.6,126.7 L157.3,127.5 L158.5,127.2 L159.6,125.8 L160.8,124.9 L162.5,125.6 L164.2,126.4 L166.0,125.2 L167.7,126.0 L169.4,125.2 L170.9,123.5 L172.3,121.8 L173.5,122.9 L174.6,122.3 L176.0,123.5 L177.2,124.0 L178.7,122.9 L179.8,122.1 L181.3,122.5 L182.5,123.5 L183.6,122.3 L185.2,120.2 L186.2,122.9 L187.3,120.0 L188.5,118.3 L189.4,120.6 L190.2,123.5 L191.4,122.9 L192.5,124.0 L193.7,124.6 L195.2,124.4 L196.0,122.3 L196.8,120.2 L198.3,120.0 L199.4,120.6 L200.9,120.0 L202.3,121.8 L203.5,124.0 L204.4,126.9 L205.2,128.1 L206.4,129.8 L207.5,131.6 L208.7,130.4 L209.8,131.3 L211.0,132.7 L212.5,133.9 L213.9,132.5 L215.0,134.4 L216.2,133.6 L217.6,134.4 L219.1,133.6 L219.1,133.2 L220.2,134.6 L221.7,136.7 L223.1,136.0 L224.8,134.4 L226.3,133.2 L227.7,132.1 L228.8,133.2 L230.2,133.5 L231.7,134.6 L233.2,133.7 L234.6,132.9 L235.8,131.4 L237.5,131.8 L239.2,130.6 L241.0,129.8 L242.7,127.9 L244.4,127.5 L245.9,127.7 L247.3,126.8 L248.7,127.5 L250.2,126.3 L251.9,126.0 L253.7,126.5 L255.2,125.4 L256.6,125.2 L258.3,125.2 L260.0,125.2 L261.2,126.3 L262.6,127.9 L264.1,128.9 L265.8,129.8 L267.5,130.6 L269.0,131.2 L270.4,130.6 L271.8,132.3 L273.3,131.8 L274.8,130.9 L276.2,130.2 L277.3,129.4 L278.7,131.2 L280.2,130.6 L281.7,131.8 L283.1,129.8 L284.3,127.1 L285.6,126.0 L287.1,127.7 L288.6,130.2 L289.5,133.5 L290.0,139.2 L290.6,146.2 L291.4,149.6 L292.3,147.3 L292.4,147.3 L293.1,153.7 L294.0,150.8 L295.2,147.3 L296.3,147.9 L297.5,144.4 L298.6,142.7 L299.8,140.4 L300.6,135.8 L301.4,130.0 L302.3,123.7 L303.0,121.7 L304.1,123.7 L304.9,127.7 L305.8,133.5 L306.7,139.2 L307.5,145.6 L308.1,139.2 L308.8,132.9 L309.5,130.6 L310.4,132.3 L311.1,134.1 L311.8,130.6 L312.7,127.5 L313.9,125.6 L314.8,125.2 L315.7,127.7 L316.8,126.8 L317.9,125.4 L319.1,124.8 L320.2,127.7 L321.7,129.4 L323.1,128.3 L324.8,127.7 L326.3,127.9 L327.7,129.4 L329.4,128.3 L330.9,127.9 L332.3,128.3 L333.7,127.7 L334.9,126.8 L336.4,127.7 L338.1,127.7 L340.2,127.5 L341.6,129.1 L343.3,130.0 L345.0,130.2 L346.8,130.6 L348.3,130.9 L349.9,130.6 L351.4,129.4 L353.1,127.7 L354.6,127.1 L356.3,127.9 L358.0,128.9 L359.8,129.4 L361.0,127.7 L362.1,125.2 L363.5,123.1 L365.0,122.5 L365.8,122.5 L367.5,121.4 L369.2,121.7 L371.0,121.4 L372.7,121.0 L374.4,121.4 L376.2,120.8 L377.9,121.0 L379.6,120.2 L381.4,119.9 L383.1,119.4 L384.5,119.6 L386.0,120.2 L387.7,120.6 L389.4,120.8 L390.6,121.7 L391.8,120.2 L393.2,119.0 L394.6,119.0 L396.4,118.5 L398.1,118.7 L399.8,119.6 L401.6,119.0 L403.3,118.2 L405.0,117.9 L406.8,118.5 L408.5,119.4 L410.2,119.0 L411.9,119.0 L413.7,119.4 L415.4,119.6 L417.1,120.8 L418.6,121.7 L420.0,120.8 L421.8,120.2 L423.5,119.6 L425.2,119.9 L427.0,119.4 L428.7,120.8 L430.2,122.5 L431.6,124.0 L432.3,119.6 L433.0,115.0 L433.9,112.1 L435.0,108.7 L436.2,105.8 L437.6,103.5 L438.7,101.7 L440.0,100.6 L440.8,100.2 L442.5,100.5 L444.2,101.7 L446.0,103.1 L447.5,103.7 L448.9,103.3 L450.6,103.1 L452.1,104.2 L453.5,105.4 L455.2,104.8 L456.9,106.3 L458.7,105.2 L460.4,104.8 L462.1,105.2 L463.3,104.5 L464.8,105.6 L465.9,106.3 L467.3,105.2 L468.7,104.5 L470.2,104.2 L471.7,104.2 L473.1,103.3 L474.8,102.9 L476.3,103.1 L477.7,103.1 L479.1,101.0 L480.6,100.5 L482.1,101.0 L483.2,99.0 L484.4,96.7 L485.8,95.2 L487.2,94.4 L488.7,93.6 L490.2,95.0 L491.6,97.1 L492.9,96.7 L494.4,97.9 L495.6,100.2 L496.8,103.1 L497.9,108.9 L499.1,113.5 L500.2,110.0 L501.4,108.6 L502.9,109.1 L504.3,105.4 L505.4,107.1 L506.8,110.2 L508.0,112.9 L509.5,116.0 L511.0,116.9 L512.3,118.3 L513.5,119.2 L515.0,117.5 L515.2,117.5 L516.4,119.2 L517.5,121.5 L519.0,123.9 L520.4,125.6 L521.8,125.2 L523.3,122.7 L524.8,122.1 L526.2,123.3 L527.9,123.6 L529.6,124.1 L531.4,125.2 L533.1,126.4 L534.8,127.9 L536.5,129.4 L538.3,130.2 L540.0,130.8 L541.4,129.6 L542.9,127.9 L544.4,127.3 L546.0,127.5 L547.5,128.2 L549.2,128.5 L551.0,127.9 L552.5,127.1 L553.9,126.2 L555.2,124.8 L556.8,124.8 L558.5,124.8 L559.9,125.2 L561.4,124.8 L562.9,124.4 L564.3,123.9 L565.6,124.1 L567.1,123.6 L568.9,124.4 L570.3,125.2 L571.8,126.2 L572.9,126.8 L574.1,125.6 L575.2,127.1 L576.7,127.5 L578.1,126.8 L579.5,127.5 L581.0,127.9 L582.5,127.3 L584.1,126.4 L585.6,125.2 L587.1,124.4 L588.5,123.6 L590.0,123.3 L590.0,122.9 L590.8,122.7 L592.2,123.3 L594.0,123.3 L595.6,123.4 L597.5,123.3 L599.1,123.2 L600.6,123.6 L602.1,124.8 L603.5,125.2 L604.9,124.8 L606.4,124.1 L608.1,123.9 L609.8,123.6 L611.5,123.4 L613.3,123.4 L614.8,123.3 L616.4,123.6 L617.9,123.9 L619.6,124.1 L621.4,124.4 L623.1,125.2 L624.8,125.9 L626.6,126.2 L628.3,126.4 L630.0,126.2 L631.4,125.6 L632.9,125.0 L634.4,125.6 L635.8,125.2 L637.5,124.8 L639.3,124.8 L641.0,125.0 L642.5,125.9 L643.9,126.4 L645.3,127.1 L646.4,127.5 L647.9,126.4 L649.4,126.2 L650.8,125.2 L652.5,124.5 L654.3,124.1 L656.0,123.9 L657.5,123.3 L658.9,123.4 L660.6,123.3 L662.3,123.3" stroke="#ffb800" stroke-width="1.1" fill="none" stroke-linejoin="round"/>
<path d="M662.5,383.46H687.5M662.5,470.17H687.5M675.5,383.46V470.17" stroke="#3a3a3a" stroke-width="1" fill="none"/>
<g font-family="Liberation Sans, sans-serif" fill="#000" opacity="0.999">
<text x="69.3" y="29" font-size="16.8">Barrow (BRW)&#160; [USGS]</text>
<text x="366.3" y="29.2" font-size="11.4" letter-spacing="0.27">GG ( 71.30<tspan font-size="6.5" dy="-5">o</tspan><tspan dy="5">, 203.25</tspan><tspan font-size="6.5" dy="-5">o</tspan><tspan dy="5">)</tspan></text>
<text x="659.6" y="29" font-size="16.6" text-anchor="end">2013/05/07</text>
<text x="69.5" y="487.8" font-size="13" text-anchor="middle">0</text>
<text x="143.6" y="487.8" font-size="13" text-anchor="middle">3</text>
<text x="217.8" y="487.8" font-size="13" text-anchor="middle">6</text>
<text x="291.9" y="487.8" font-size="13" text-anchor="middle">9</text>
<text x="366.0" y="487.8" font-size="13" text-anchor="middle">12</text>
<text x="440.1" y="487.8" font-size="13" text-anchor="middle">15</text>
<text x="514.2" y="487.8" font-size="13" text-anchor="middle">18</text>
<text x="588.4" y="487.8" font-size="13" text-anchor="middle">21</text>
<text x="662.5" y="487.8" font-size="13" text-anchor="middle">24</text>
<text x="366" y="503.6" font-size="13" text-anchor="middle" word-spacing="2">U T (hour)</text>
<text transform="translate(692.6,445.5) rotate(-90)" font-size="11.7">500 nT</text>
<text transform="translate(702.6,445.7) rotate(-90)" font-size="11.6">2.0 deg</text>
<text transform="translate(724.8,468.8) rotate(-90)" font-size="9.2" letter-spacing="0.08">Plotted at 2013/06/07 02:18 UT</text>
<text x="44.6" y="124.1" font-size="18.2" text-anchor="middle" fill="#ffb800">F</text>
<text x="63.5" y="141.9" font-size="11.8" letter-spacing="0.1" text-anchor="end" fill="#ffb800">57490nT</text>
<text x="44.6" y="210.6" font-size="18.2" text-anchor="middle" fill="#00fb10">H</text>
<text x="63.5" y="228.4" font-size="11.8" letter-spacing="0.1" text-anchor="end" fill="#00fb10">9210nT</text>
<text x="44.6" y="297.0" font-size="18.2" text-anchor="middle" fill="#0000ff">D</text>
<text x="63.5" y="314.8" font-size="11.8" letter-spacing="0.1" text-anchor="end" fill="#0000ff">-1.0deg</text>
<text x="44.6" y="383.3" font-size="18.2" text-anchor="middle" fill="#ff0000">Z</text>
<text x="63.5" y="401.1" font-size="11.8" letter-spacing="0.1" text-anchor="end" fill="#ff0000">56890nT</text>
</g>
</svg>
</body></html>
